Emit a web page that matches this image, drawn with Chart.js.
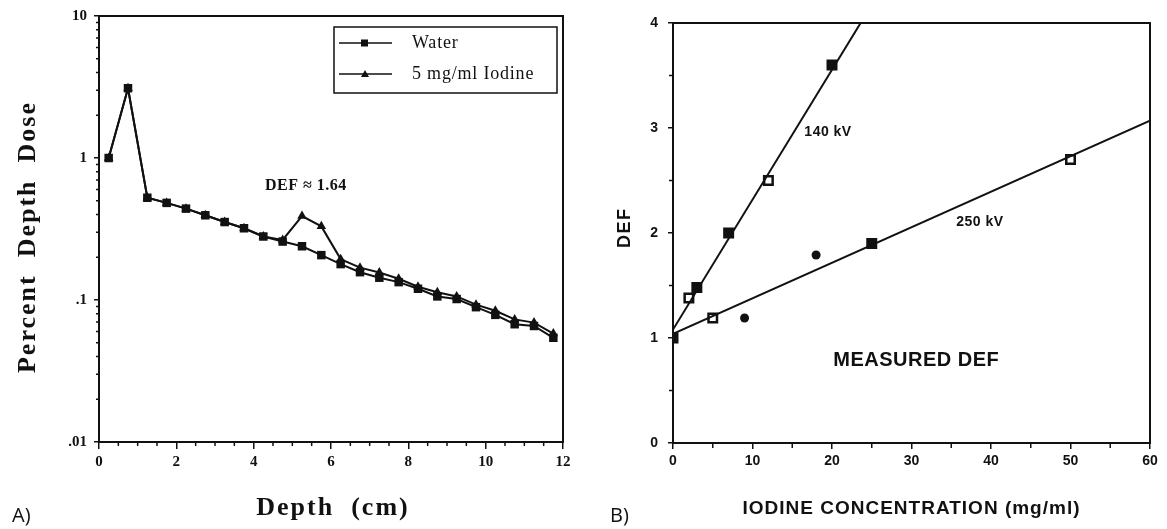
<!DOCTYPE html>
<html><head><meta charset="utf-8">
<script src="https://cdn.jsdelivr.net/npm/chart.js@4/dist/chart.umd.min.js"></script>
<style>
html,body{margin:0;padding:0;background:#fff;}
#wrap{position:relative;width:1167px;height:529px;overflow:hidden;background:#fff;}
#ca{position:absolute;left:0;top:0;}
#cb{position:absolute;left:600px;top:0;}
</style></head><body>
<div id="wrap">
<canvas id="ca" width="600" height="529"></canvas>
<canvas id="cb" width="567" height="529"></canvas>
</div>
<script>
// ---------- Panel A data ----------
const depthCm = [0.25,0.75,1.25,1.75,2.25,2.75,3.25,3.75,4.25,4.75,5.25,5.75,6.25,6.75,7.25,7.75,8.25,8.75,9.25,9.75,10.25,10.75,11.25,11.75];
const waterPDD = [1.0,3.1,0.525,0.483,0.44,0.395,0.354,0.32,0.28,0.258,0.239,0.207,0.179,0.157,0.1435,0.1336,0.12,0.106,0.1016,0.089,0.0786,0.0675,0.0656,0.0542];
const iodinePDD = [1.0,3.1,0.525,0.483,0.44,0.395,0.354,0.32,0.28,0.265,0.39,0.33,0.194,0.169,0.156,0.141,0.124,0.1135,0.106,0.0927,0.084,0.073,0.0693,0.058];
const seriesNamesA = ['Water','5 mg/ml Iodine'];
const yTicksA = [0.01,0.1,1,10];
const yTickLabelsA = ['.01','.1','1','10'];
const xTicksA = [0,2,4,6,8,10,12];

// ---------- Panel B data ----------
const conc140 = [0,2,3,7,12,20];
const def140 = [1.0,1.38,1.48,2.0,2.5,3.6];
const conc250 = [5,25,50];
const def250 = [1.19,1.9,2.7];
const concDots = [9,18];
const defDots = [1.19,1.79];
const fit140X = [0,23.6];
const fit140Y = [1.08,4.0];
const fit250X = [0,60];
const fit250Y = [1.04,3.07];
const xTicksB = [0,10,20,30,40,50,60];
const yTicksB = [0,1,2,3,4];

// marker fill style (open = hollow square)
const open140 = [false,true,false,false,true,false];
const open250 = [true,false,true];

const INK = '#111';
const SERIF = '"Liberation Serif", "Times New Roman", serif';
const SANS = '"Liberation Sans", Arial, sans-serif';

function pts(xs, ys){ return xs.map((x,i)=>({x:x,y:ys[i]})); }

// ---------- Panel A ----------
const pluginA = {
  id:'extrasA',
  afterDraw(chart){
    const {ctx, chartArea:ca, scales:{x,y}} = chart;
    ctx.save();
    ctx.strokeStyle = INK; ctx.lineWidth = 2;
    ctx.strokeRect(ca.left, ca.top, ca.right-ca.left, ca.bottom-ca.top);
    // minor x ticks
    ctx.lineWidth = 1.5;
    for(let v=0.5; v<12; v+=0.5){
      if (Math.abs(v/2 - Math.round(v/2))<1e-6) continue;
      const px = x.getPixelForValue(v);
      ctx.beginPath(); ctx.moveTo(px, ca.bottom); ctx.lineTo(px, ca.bottom+4); ctx.stroke();
    }
    // minor y ticks (log)
    for(let d=0.01; d<10; d*=10){
      for(let k=2;k<=9;k++){
        const py = y.getPixelForValue(d*k);
        ctx.beginPath(); ctx.moveTo(ca.left, py); ctx.lineTo(ca.left-3, py); ctx.stroke();
      }
    }
    // legend box
    const lx = 334, ly = 27, lw = 223, lh = 66;
    ctx.lineWidth = 1.5;
    ctx.strokeRect(lx, ly, lw, lh);
    const rows = [ly+16, ly+47];
    ctx.font = '18px ' + SERIF; ctx.fillStyle = INK; ctx.textBaseline='middle'; ctx.textAlign='left';
    ctx.letterSpacing = '0.8px';
    rows.forEach((ry,i)=>{
      ctx.beginPath(); ctx.moveTo(lx+5, ry); ctx.lineTo(lx+58, ry); ctx.stroke();
      if(i===0){ ctx.fillRect(lx+27, ry-3.5, 7, 7); }
      else { ctx.beginPath(); ctx.moveTo(lx+31, ry-4); ctx.lineTo(lx+35, ry+3); ctx.lineTo(lx+27, ry+3); ctx.closePath(); ctx.fill(); }
      ctx.fillText(seriesNamesA[i], lx+78, ry);
    });
    // annotation
    ctx.letterSpacing = '0.5px';
    ctx.font = 'bold 16px ' + SERIF; ctx.textAlign='center';
    ctx.fillText('DEF \u2248 1.64', x.getPixelForValue(5.35), y.getPixelForValue(0.635));
    // axis titles
    ctx.font = 'bold 26px ' + SERIF;
    ctx.letterSpacing = '2px';
    ctx.fillText('Depth  (cm)', (ca.left+ca.right)/2 + 2, 508);
    ctx.save();
    ctx.translate(28, (ca.top+ca.bottom)/2 + 8);
    ctx.rotate(-Math.PI/2);
    ctx.fillText('Percent  Depth  Dose', 0, 0);
    ctx.restore();
    ctx.letterSpacing = '0px';
    ctx.font = '20px "Open Sans", sans-serif'; ctx.textAlign='left';
    ctx.fillText('A)', 12, 516);
    ctx.restore();
  }
};

new Chart(document.getElementById('ca'), {
  type:'line',
  data:{ datasets:[
    { label: seriesNamesA[0], data: pts(depthCm, waterPDD), borderColor:INK, backgroundColor:INK, borderWidth:2,
      pointStyle:'rect', pointRadius:6, pointBorderWidth:0, order:1 },
    { label: seriesNamesA[1], data: pts(depthCm, iodinePDD), borderColor:INK, backgroundColor:INK, borderWidth:2,
      pointStyle:'triangle', pointRadius:5.5, pointBorderWidth:0, order:2 }
  ]},
  options:{
    responsive:false, animation:false, devicePixelRatio:1,
    layout:{padding:{left:0, top:16, right:37, bottom:0}},
    plugins:{legend:{display:false}, tooltip:{enabled:false}},
    scales:{
      x:{ type:'linear', min:0, max:12,
        afterBuildTicks:(s)=>{ s.ticks = xTicksA.map(v=>({value:v})); },
        afterFit:(s)=>{ s.height = 87; },
        grid:{ drawOnChartArea:false, drawTicks:true, tickLength:7, color:INK, lineWidth:1.5 },
        border:{ display:true, color:INK, width:2 },
        ticks:{ color:INK, font:{family:SERIF, size:15, weight:'bold'}, padding:4, autoSkip:false, maxRotation:0 }
      },
      y:{ type:'logarithmic', min:0.01, max:10,
        afterBuildTicks:(s)=>{ s.ticks = yTicksA.map(v=>({value:v, major:true})); },
        afterFit:(s)=>{ s.width = 99; },
        grid:{ drawOnChartArea:false, drawTicks:true, tickLength:5, color:INK, lineWidth:1.5 },
        border:{ display:true, color:INK, width:2 },
        ticks:{ color:INK, font:{family:SERIF, size:15, weight:'bold'}, padding:7, autoSkip:false,
          callback:(v)=>{ const i = yTicksA.indexOf(v); return i>=0 ? yTickLabelsA[i] : ''; } }
      }
    }
  },
  plugins:[pluginA]
});

// ---------- Panel B ----------
const pluginB = {
  id:'extrasB',
  afterDraw(chart){
    const {ctx, chartArea:ca, scales:{x,y}} = chart;
    ctx.save();
    ctx.strokeStyle = INK; ctx.lineWidth = 2;
    ctx.strokeRect(ca.left, ca.top, ca.right-ca.left, ca.bottom-ca.top);
    ctx.lineWidth = 1.5;
    for(let v=5; v<60; v+=10){
      const px = x.getPixelForValue(v);
      ctx.beginPath(); ctx.moveTo(px, ca.bottom); ctx.lineTo(px, ca.bottom+5); ctx.stroke();
    }
    for(let v=0.5; v<4; v+=1){
      const py = y.getPixelForValue(v);
      ctx.beginPath(); ctx.moveTo(ca.left, py); ctx.lineTo(ca.left-4, py); ctx.stroke();
    }
    ctx.fillStyle = INK; ctx.textBaseline='middle'; ctx.textAlign='center';
    ctx.font = 'bold 14px ' + SANS;
    ctx.letterSpacing = '0.5px';
    ctx.fillText('140 kV', x.getPixelForValue(19.5), y.getPixelForValue(2.96));
    ctx.fillText('250 kV', x.getPixelForValue(38.6), y.getPixelForValue(2.1));
    ctx.font = 'bold 20px ' + SANS;
    ctx.fillText('MEASURED DEF', x.getPixelForValue(30.6), y.getPixelForValue(0.79));
    ctx.font = 'bold 19px ' + SANS;
    ctx.letterSpacing = '1px';
    ctx.fillText('IODINE CONCENTRATION (mg/ml)', (ca.left+ca.right)/2, 509);
    ctx.save();
    ctx.translate(25, y.getPixelForValue(2.05));
    ctx.rotate(-Math.PI/2);
    ctx.font = 'bold 18px ' + SANS;
    ctx.letterSpacing = '1.5px';
    ctx.fillText('DEF', 0, 0);
    ctx.restore();
    ctx.letterSpacing = '0px';
    ctx.font = '20px "Open Sans", sans-serif'; ctx.textAlign='left';
    ctx.fillText('B)', 10, 516);
    ctx.restore();
  }
};

new Chart(document.getElementById('cb'), {
  type:'scatter',
  data:{ datasets:[
    { label:'140 kV fit', data: pts(fit140X, fit140Y), showLine:true, borderColor:INK, borderWidth:2, pointRadius:0 },
    { label:'250 kV fit', data: pts(fit250X, fit250Y), showLine:true, borderColor:INK, borderWidth:2, pointRadius:0 },
    { label:'140 kV', data: pts(conc140, def140), pointStyle:'rect', pointRadius:6, borderColor:INK, pointBorderWidth:2.5,
      pointBackgroundColor:(c)=> open140[c.dataIndex] ? '#fff' : INK },
    { label:'250 kV', data: pts(conc250, def250), pointStyle:'rect', pointRadius:6, borderColor:INK, pointBorderWidth:2.5,
      pointBackgroundColor:(c)=> open250[c.dataIndex] ? '#fff' : INK },
    { label:'other', data: pts(concDots, defDots), pointStyle:'circle', pointRadius:4.5, borderColor:INK, backgroundColor:INK, pointBorderWidth:0 }
  ]},
  options:{
    responsive:false, animation:false, devicePixelRatio:1,
    layout:{padding:{left:0, top:23, right:17, bottom:0}},
    plugins:{legend:{display:false}, tooltip:{enabled:false}},
    scales:{
      x:{ type:'linear', min:0, max:60,
        afterBuildTicks:(s)=>{ s.ticks = xTicksB.map(v=>({value:v})); },
        afterFit:(s)=>{ s.height = 86; },
        grid:{ drawOnChartArea:false, drawTicks:true, tickLength:6, color:INK, lineWidth:1.5 },
        border:{ display:true, color:INK, width:2 },
        ticks:{ color:INK, font:{family:SANS, size:14, weight:'bold'}, padding:4, autoSkip:false, maxRotation:0 }
      },
      y:{ type:'linear', min:0, max:4,
        afterBuildTicks:(s)=>{ s.ticks = yTicksB.map(v=>({value:v})); },
        afterFit:(s)=>{ s.width = 73; },
        grid:{ drawOnChartArea:false, drawTicks:true, tickLength:5, color:INK, lineWidth:1.5 },
        border:{ display:true, color:INK, width:2 },
        ticks:{ color:INK, font:{family:SANS, size:14, weight:'bold'}, padding:10, autoSkip:false }
      }
    }
  },
  plugins:[pluginB]
});
</script>
</body></html>
